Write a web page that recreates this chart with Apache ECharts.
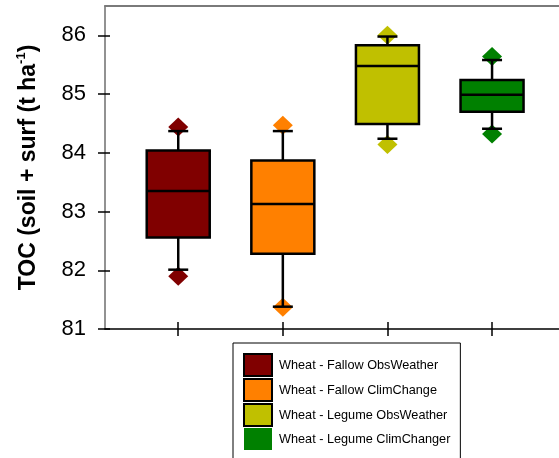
<!DOCTYPE html>
<html><head><meta charset="utf-8">
<script src="https://cdn.jsdelivr.net/npm/echarts@6/dist/echarts.min.js"></script>
<style>html,body{margin:0;padding:0;background:#fff}#c{width:559px;height:458px}</style>
</head><body><div id="c"></div>
<script>
const groupNames = ['Wheat - Fallow ObsWeather','Wheat - Fallow ClimChange','Wheat - Legume ObsWeather','Wheat - Legume ClimChanger'];
const groupPositions = [1, 2, 3, 4];
const groupColors = ['#800000', '#FF8000', '#C0C000', '#008000'];
// [lower whisker, Q1, median, Q3, upper whisker]
const boxStats = [
  [82.01, 82.56, 83.35, 84.04, 84.37],
  [81.38, 82.28, 83.13, 83.87, 84.37],
  [84.24, 84.49, 85.48, 85.83, 85.98],
  [84.41, 84.70, 84.99, 85.24, 85.58]
];
const outliers = [
  [81.90, 84.44],
  [81.37, 84.47],
  [84.14, 86.00],
  [84.32, 85.64]
];
const yTicks = [81, 82, 83, 84, 85, 86];

const FONT = '"Liberation Sans", Arial, sans-serif';

function makeRender(color) {
  return function (params, api) {
    const x = api.value(0);
    const pMin = api.coord([x, api.value(1)]);
    const pQ1 = api.coord([x, api.value(2)]);
    const pMed = api.coord([x, api.value(3)]);
    const pQ3 = api.coord([x, api.value(4)]);
    const pMax = api.coord([x, api.value(5)]);
    const cx = pMin[0];
    const bw = 63, cw = 20;
    const ls = { stroke: '#000', lineWidth: 2.5 };
    return {
      type: 'group', children: [
        { type: 'line', shape: { x1: cx, y1: pMax[1], x2: cx, y2: pQ3[1] }, style: ls },
        { type: 'line', shape: { x1: cx, y1: pQ1[1], x2: cx, y2: pMin[1] }, style: ls },
        { type: 'line', shape: { x1: cx - cw / 2, y1: pMax[1], x2: cx + cw / 2, y2: pMax[1] }, style: ls },
        { type: 'line', shape: { x1: cx - cw / 2, y1: pMin[1], x2: cx + cw / 2, y2: pMin[1] }, style: ls },
        { type: 'rect', shape: { x: cx - bw / 2, y: pQ3[1], width: bw, height: pQ1[1] - pQ3[1] }, style: { fill: color, stroke: '#000', lineWidth: 2.5 } },
        { type: 'line', shape: { x1: cx - bw / 2, y1: pMed[1], x2: cx + bw / 2, y2: pMed[1] }, style: ls }
      ]
    };
  };
}

const series = [];
groupNames.forEach(function (name, i) {
  series.push({
    name: 'outliers ' + i,
    type: 'scatter',
    xAxisIndex: 0, yAxisIndex: 0,
    symbol: 'diamond',
    symbolSize: [20, 19],
    itemStyle: { color: groupColors[i], opacity: 1 },
    z: 1,
    silent: true,
    data: outliers[i].map(function (v) { return [groupPositions[i], v]; })
  });
});
groupNames.forEach(function (name, i) {
  series.push({
    name: name,
    type: 'custom',
    xAxisIndex: 0, yAxisIndex: 0,
    z: 2,
    itemStyle: { color: groupColors[i] },
    encode: { x: 0, y: [1, 2, 3, 4, 5] },
    renderItem: makeRender(groupColors[i]),
    data: [[groupPositions[i]].concat(boxStats[i])]
  });
});

const xBase = { type: 'value', min: 0.3, max: 4.64, splitLine: { show: false }, axisLabel: { show: false } };
const yBase = { type: 'value', min: 81, max: 86.5, splitLine: { show: false } };

const option = {
  animation: false,
  backgroundColor: '#fff',
  grid: [
    { left: 105, top: 6, right: 0, bottom: 129, containLabel: false },
    { left: 105, top: 6, right: 0, bottom: 129, containLabel: false }
  ],
  xAxis: [
    Object.assign({}, xBase, {
      gridIndex: 0, position: 'bottom',
      axisLine: { show: true, onZero: false, lineStyle: { color: '#000', width: 1.5 } },
      axisTick: { show: true, length: 7, customValues: groupPositions, lineStyle: { color: '#000', width: 1.5 } }
    }),
    Object.assign({}, xBase, {
      gridIndex: 0, position: 'top',
      axisLine: { show: true, onZero: false, lineStyle: { color: '#7a7a7a', width: 2 } },
      axisTick: { show: false }
    }),
    Object.assign({}, xBase, {
      gridIndex: 1, position: 'bottom',
      axisLine: { show: false },
      axisTick: { show: true, inside: true, length: 7, customValues: groupPositions, lineStyle: { color: '#000', width: 1.5 } }
    })
  ],
  yAxis: [
    Object.assign({}, yBase, {
      gridIndex: 0, position: 'left',
      axisLine: { show: true, onZero: false, lineStyle: { color: '#6e6e6e', width: 1.5 } },
      axisTick: { show: true, length: 7, customValues: yTicks, lineStyle: { color: '#000', width: 1.5 } },
      axisLabel: { customValues: yTicks, fontSize: 22, color: '#000', fontFamily: FONT, margin: 19 },
      name: '{a|TOC (soil + surf (t ha}{s|-1}{a|)}',
      nameLocation: 'middle',
      nameRotate: 90,
      nameGap: 62,
      nameTextStyle: {
        rich: {
          a: { fontSize: 23, fontWeight: 'bold', color: '#000', fontFamily: FONT, lineHeight: 28 },
          s: { fontSize: 13, fontWeight: 'bold', color: '#000', fontFamily: FONT, lineHeight: 13, verticalAlign: 'top' }
        }
      }
    }),
    Object.assign({}, yBase, {
      gridIndex: 1, position: 'left',
      axisLine: { show: false },
      axisTick: { show: true, inside: true, length: 5, customValues: yTicks, lineStyle: { color: '#000', width: 1.5 } },
      axisLabel: { show: false }
    })
  ],
  legend: {
    orient: 'vertical', left: 233, top: 343, height: 140, padding: [10, 10, 10, 10], itemGap: 1,
    itemWidth: 28, itemHeight: 22, icon: 'rect',
    borderColor: '#000', borderWidth: 1, selectedMode: false,
    textStyle: { fontFamily: FONT, fontSize: 12.7, color: '#000', padding: [0, 0, 0, 2] },
    data: groupNames.map(function (n, i) {
      return { name: n, itemStyle: i < 3 ? { borderColor: '#000', borderWidth: 2 } : { borderWidth: 0 } };
    })
  },
  series: series
};

const chart = echarts.init(document.getElementById('c'), null, { renderer: 'canvas' });
chart.setOption(option);
</script>
</body></html>
